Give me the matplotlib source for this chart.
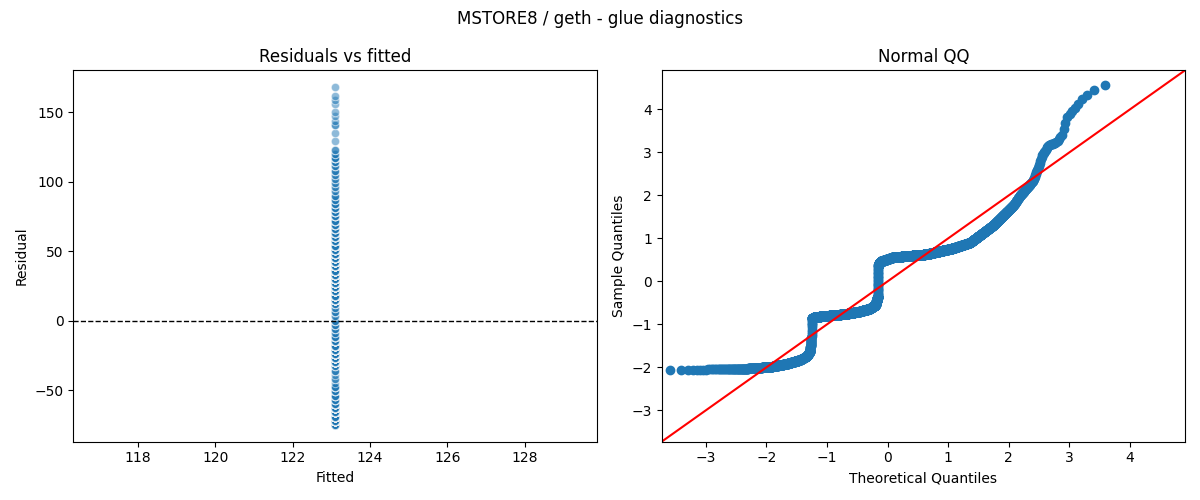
import numpy as np
import matplotlib
matplotlib.use("Agg")
import matplotlib.pyplot as plt
from statistics import NormalDist

# ---- data ----
title = "MSTORE8 / geth - glue diagnostics"
n_obs = 6000
fitted_value = 123.1
resid_scale = 36.5   # residual units per standardized unit
resid_step = 3.0     # spacing of the distinct residual levels seen in the left panel

# QQ curve knots: theoretical quantile -> sample quantile
qq_theo = [-3.60, -3.42, -3.00, -2.50, -2.20, -1.90, -1.67, -1.45, -1.33, -1.28,
           -1.255, -1.25, -1.245, -1.20, -1.00, -0.70, -0.46, -0.30, -0.20, -0.16,
           -0.155, -0.15, -0.12, 0.09, 0.64, 1.08, 1.36, 1.75, 2.08, 2.19,
           2.41, 2.49, 2.55, 2.66, 2.79, 2.88, 2.96, 3.10, 3.21, 3.32, 3.43, 3.60]
qq_sample = [-2.06, -2.06, -2.05, -2.04, -2.02, -1.98, -1.92, -1.83, -1.74, -1.62,
             -1.30, -1.02, -0.86, -0.83, -0.80, -0.76, -0.70, -0.64, -0.55, -0.35,
             0.00, 0.38, 0.46, 0.56, 0.63, 0.77, 0.90, 1.31, 1.77, 2.00,
             2.35, 2.66, 2.93, 3.17, 3.24, 3.40, 3.82, 4.06, 4.25, 4.37, 4.48, 4.58]

axis_lo, axis_hi = -3.73, 4.91

# ---- build plotted series ----
nd = NormalDist()
theo = np.array([nd.inv_cdf(i / (n_obs + 1)) for i in range(1, n_obs + 1)])
sample = np.interp(theo, qq_theo, qq_sample)
residuals = np.round(sample * resid_scale / resid_step) * resid_step
fitted = np.full(n_obs, fitted_value)

fig, (ax1, ax2) = plt.subplots(1, 2, figsize=(12, 5), dpi=100)

ax1.scatter(fitted, residuals, s=36, color="C0", edgecolor="white",
            linewidth=0.75, alpha=0.5)
ax1.axhline(0, color="black", linestyle="--", linewidth=1)
ax1.set_title("Residuals vs fitted")
ax1.set_xlabel("Fitted")
ax1.set_ylabel("Residual")

ax2.plot(theo, sample, marker="o", linestyle="none", color="C0",
         markerfacecolor="C0", markeredgecolor="C0")
ax2.plot([axis_lo, axis_hi], [axis_lo, axis_hi], "-r")
ax2.set_xlim(axis_lo, axis_hi)
ax2.set_ylim(axis_lo, axis_hi)
ax2.set_title("Normal QQ")
ax2.set_xlabel("Theoretical Quantiles")
ax2.set_ylabel("Sample Quantiles")

fig.suptitle(title)
fig.tight_layout()
fig.savefig("out.png")
